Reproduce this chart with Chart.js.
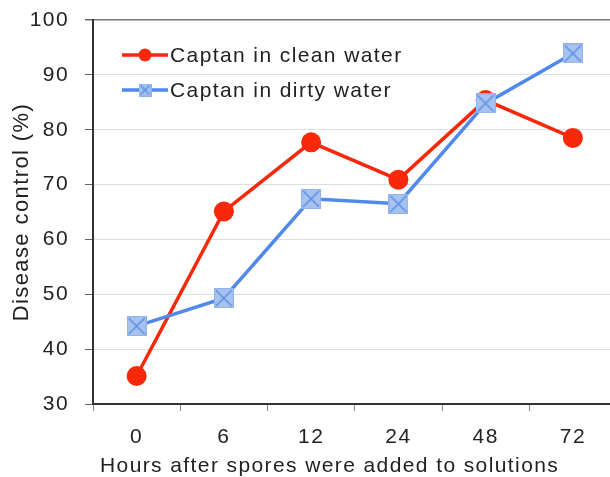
<!DOCTYPE html>
<html>
<head>
<meta charset="utf-8">
<script src="https://cdn.jsdelivr.net/npm/chart.js@4"></script>
<style>
  html, body { margin: 0; padding: 0; background: #fff; overflow: hidden; }
  #wrap { width: 630px; height: 477px; }
</style>
</head>
<body>
<div id="wrap"><canvas id="chart"></canvas></div>
<script>
const hours = ['0', '6', '12', '24', '48', '72'];
const clean_water = [35.1, 65.1, 77.7, 70.9, 85.4, 78.5];
const dirty_water = [44.2, 49.3, 67.4, 66.5, 84.8, 93.9];
const y_ticks = [30, 40, 50, 60, 70, 80, 90, 100];
const x_title = 'Hours after spores were added to solutions';
const y_title = 'Disease control (%)';

const red = '#f8290b';
const blue = '#4f89ec';
const font_family = '"Liberation Sans", Arial, Helvetica, sans-serif';
const letter_spacing = '1.4px';

// marcador azul: cuadrado claro con una X
function make_cross_box(size) {
  const c = document.createElement('canvas');
  c.width = size; c.height = size;
  const g = c.getContext('2d');
  g.fillStyle = '#a6c3ef';
  g.fillRect(0, 0, size, size);
  g.strokeStyle = '#8fb2ea';
  g.lineWidth = 1;
  g.strokeRect(0.5, 0.5, size - 1, size - 1);
  g.strokeStyle = '#5c90e6';
  g.lineWidth = 1.6;
  g.beginPath();
  g.moveTo(2, 2); g.lineTo(size - 2, size - 2);
  g.moveTo(size - 2, 2); g.lineTo(2, size - 2);
  g.stroke();
  return c;
}
const cross_box = make_cross_box(20);
const cross_box_small = make_cross_box(13);

// letra más ancha, como en la imagen
const wide_text = {
  id: 'wide_text',
  beforeUpdate(chart) { chart.ctx.letterSpacing = letter_spacing; },
  beforeDraw(chart) { chart.ctx.letterSpacing = letter_spacing; }
};

// leyenda dentro del área del gráfico y título del eje X
const inside_legend = {
  id: 'inside_legend',
  afterDraw(chart) {
    const ctx = chart.ctx;
    const rows = [
      { label: chart.data.datasets[0].label, color: red, y: 55, marker: 'circle' },
      { label: chart.data.datasets[1].label, color: blue, y: 90, marker: 'box' }
    ];
    ctx.save();
    ctx.letterSpacing = letter_spacing;
    ctx.font = '21px ' + font_family;
    ctx.textBaseline = 'middle';
    rows.forEach(r => {
      ctx.strokeStyle = r.color;
      ctx.lineWidth = 3.5;
      ctx.beginPath();
      ctx.moveTo(122, r.y); ctx.lineTo(168, r.y);
      ctx.stroke();
      if (r.marker === 'circle') {
        ctx.fillStyle = r.color;
        ctx.beginPath();
        ctx.arc(145, r.y, 6.5, 0, Math.PI * 2);
        ctx.fill();
      } else {
        ctx.drawImage(cross_box_small, 145 - 6.5, r.y - 6.5);
      }
      ctx.fillStyle = '#222';
      ctx.textAlign = 'left';
      ctx.fillText(r.label, 170, r.y + 1);
    });
    // título del eje X (no está centrado en el área del gráfico)
    ctx.fillStyle = '#222';
    ctx.textAlign = 'left';
    ctx.fillText(x_title, 100, 466);
    ctx.restore();
  }
};

const ctx = document.getElementById('chart').getContext('2d');
new Chart(ctx, {
  type: 'line',
  data: {
    labels: hours,
    datasets: [{
      label: 'Captan in clean water',
      data: clean_water,
      borderColor: red,
      backgroundColor: red,
      borderWidth: 3.5,
      pointRadius: 10,
      pointBackgroundColor: red,
      pointBorderWidth: 0,
      tension: 0,
      order: 1
    }, {
      label: 'Captan in dirty water',
      data: dirty_water,
      borderColor: blue,
      backgroundColor: blue,
      borderWidth: 3.5,
      pointStyle: cross_box,
      pointRadius: 10,
      tension: 0,
      order: 0
    }]
  },
  options: {
    responsive: true,
    maintainAspectRatio: false,
    animation: false,
    devicePixelRatio: 1,
    layout: { padding: { top: 20, right: 0, left: 0, bottom: 0 } },
    plugins: {
      legend: { display: false },
      tooltip: { enabled: false }
    },
    scales: {
      x: {
        offset: true,
        afterFit: scale => {
          scale.height = 73;
          scale.paddingLeft = 0; scale.paddingRight = 0;
        },
        border: { color: '#333', width: 2 },
        grid: {
          color: 'rgba(0,0,0,0)',
          tickColor: '#888',
          tickLength: 7,
          offset: true
        },
        ticks: {
          color: '#222',
          font: { family: font_family, size: 21 },
          padding: 14
        },
        title: { display: false }
      },
      y: {
        min: 30,
        max: 100,
        afterFit: scale => {
          scale.width = 93;
          scale.paddingTop = 0; scale.paddingBottom = 0;
        },
        afterBuildTicks: scale => { scale.ticks = y_ticks.map(v => ({ value: v })); },
        border: { color: '#333', width: 2 },
        grid: {
          color: c => c.tick && c.tick.value === 100 ? '#777' : '#dedede',
          lineWidth: c => c.tick && c.tick.value === 100 ? 1.5 : 1,
          tickColor: '#666',
          tickLength: 8
        },
        ticks: {
          color: '#222',
          font: { family: font_family, size: 21 },
          padding: 16
        },
        title: {
          display: true,
          text: y_title,
          color: '#222',
          font: { family: font_family, size: 22 },
          padding: { top: 9, bottom: 0 }
        }
      }
    }
  },
  plugins: [wide_text, inside_legend]
});
</script>
</body>
</html>
